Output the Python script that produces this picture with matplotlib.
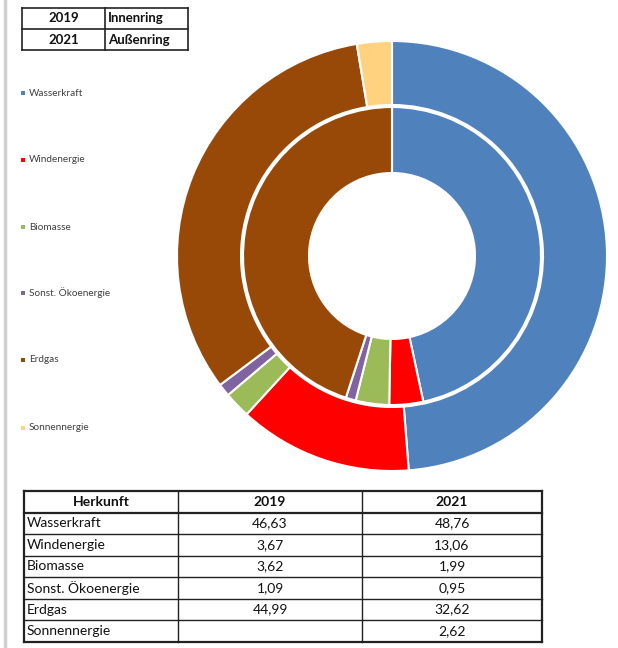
import matplotlib
matplotlib.use("Agg")
import matplotlib.pyplot as plt
from matplotlib.patches import Rectangle

plt.rcParams['font.family'] = ['Lato', 'DejaVu Sans']

categories = ["Wasserkraft", "Windenergie", "Biomasse", "Sonst. Ökoenergie", "Erdgas", "Sonnennergie"]
table_labels = ["Wasserkraft", "Windenergie", "Biomasse", "Sonst. Ökoenergie", "Erdgas", "Sonnennergie"]
values_2019 = [46.63, 3.67, 3.62, 1.09, 44.99, 0.0]
values_2021 = [48.76, 13.06, 1.99, 0.95, 32.62, 2.62]
text_2019 = ["46,63", "3,67", "3,62", "1,09", "44,99", ""]
text_2021 = ["48,76", "13,06", "1,99", "0,95", "32,62", "2,62"]
colors = ["#4F81BD", "#FF0000", "#9BBB59", "#8064A2", "#984807", "#FFD27F"]
key_years = ["2019", "2021"]
key_rings = ["Innenring", "Außenring"]
header = ["Herkunft", "2019", "2021"]

W, H = 618, 648
fig = plt.figure(figsize=(W / 100, H / 100), dpi=100)

# overlay axes in pixel coordinates
ov = fig.add_axes([0, 0, 1, 1])
ov.set_xlim(0, W)
ov.set_ylim(H, 0)
ov.axis('off')

# grey left border
ov.plot([5, 5], [0, H], color="#d0d0d0", lw=2.5)

# donut axes
cx, cy, R = 392, 256, 215
ax = fig.add_axes([(cx - R) / W, 1 - (cy + R) / H, 2 * R / W, 2 * R / H])
r_outer_in = 151
r_inner_out = 149
r_hole = 83
ax.pie(values_2021, radius=1.0, startangle=90, counterclock=False, colors=colors,
       wedgeprops=dict(width=(R - r_outer_in) / R, edgecolor="white", linewidth=1.5))
ax.pie(values_2019, radius=r_inner_out / R, startangle=90, counterclock=False, colors=colors,
       wedgeprops=dict(width=(r_inner_out - r_hole) / R, edgecolor="white", linewidth=1.5))
ax.set_xlim(-1, 1)
ax.set_ylim(-1, 1)
ax.set_aspect('equal')
ax.axis('off')

# legend
leg_y = [93, 160, 227, 293, 360, 428]
for lab, col, y in zip(categories, colors, leg_y):
    ov.add_patch(Rectangle((21, y - 2), 4, 4, color=col, lw=0))
    ov.text(29, y, lab, fontsize=7.2, color="#404040", va="center", ha="left")

# key table top-left
kx0, kx1, kx2 = 22, 105, 188
ky = [8, 29, 50]
for y in ky:
    ov.plot([kx0, kx2], [y, y], color="#222222", lw=1.2)
for x in [kx0, kx1, kx2]:
    ov.plot([x, x], [ky[0], ky[-1]], color="#222222", lw=1.2)
for i in range(2):
    yc = (ky[i] + ky[i + 1]) / 2
    ov.text((kx0 + kx1) / 2, yc, key_years[i], fontsize=9.5, fontweight="bold",
            ha="center", va="center", color="#111111")
    ov.text(kx1 + 3, yc, key_rings[i], fontsize=9.5, fontweight="bold",
            ha="left", va="center", color="#111111")

# bottom data table
tx = [24, 178, 362, 542]
ty0, ty1 = 491, 642
nrows = 1 + len(table_labels)
rh = (ty1 - ty0) / nrows
for i in range(nrows + 1):
    y = ty0 + i * rh
    lw = 1.6 if i in (0, 1, nrows) else 1.0
    ov.plot([tx[0], tx[-1]], [y, y], color="#222222", lw=lw)
for j, x in enumerate(tx):
    lw = 1.6 if j in (0, len(tx) - 1) else 1.0
    ov.plot([x, x], [ty0, ty1], color="#222222", lw=lw)

fs = 10
yc = ty0 + rh / 2
ov.text((tx[0] + tx[1]) / 2, yc, header[0], fontsize=fs, fontweight="bold", ha="center", va="center", color="#111111")
ov.text((tx[1] + tx[2]) / 2, yc, header[1], fontsize=fs, fontweight="bold", ha="center", va="center", color="#111111")
ov.text((tx[2] + tx[3]) / 2, yc, header[2], fontsize=fs, fontweight="bold", ha="center", va="center", color="#111111")
for i, (lab, a, b) in enumerate(zip(table_labels, text_2019, text_2021)):
    yc = ty0 + (i + 1.5) * rh
    ov.text(tx[0] + 3, yc, lab, fontsize=fs, ha="left", va="center", color="#111111")
    ov.text((tx[1] + tx[2]) / 2, yc, a, fontsize=fs, ha="center", va="center", color="#111111")
    ov.text((tx[2] + tx[3]) / 2, yc, b, fontsize=fs, ha="center", va="center", color="#111111")

fig.savefig("out.png", dpi=100)
